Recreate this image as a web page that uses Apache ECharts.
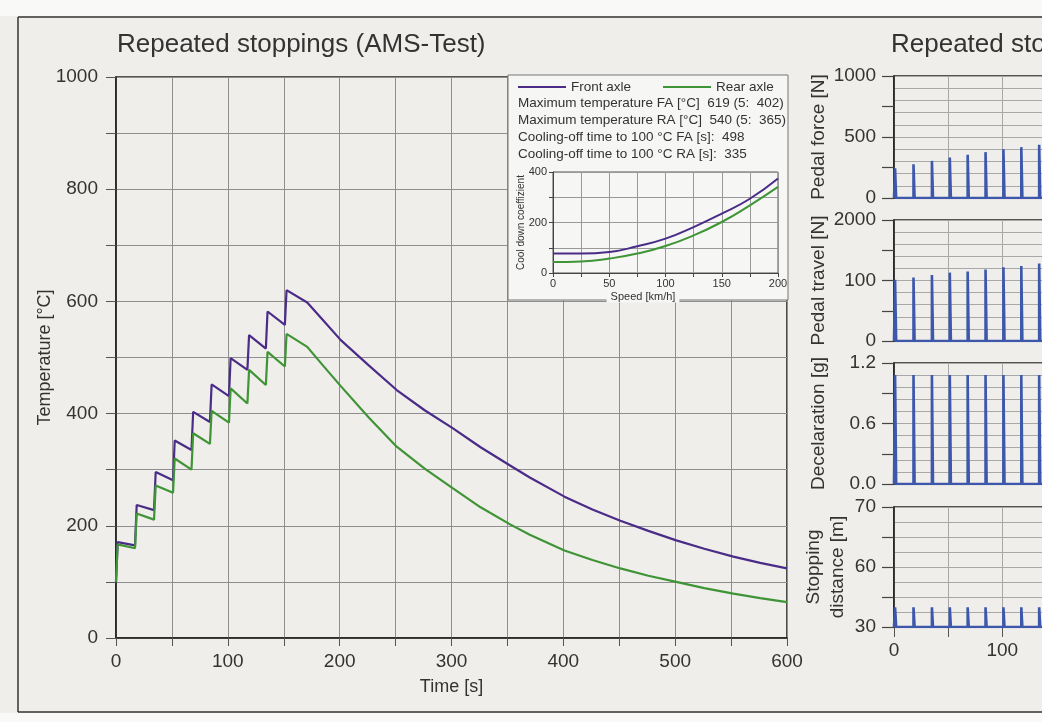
<!DOCTYPE html>
<html><head><meta charset="utf-8">
<script src="https://cdn.jsdelivr.net/npm/echarts@6/dist/echarts.min.js"></script>
<style>html,body{margin:0;padding:0;background:#f9f9f8}#c{width:1042px;height:722px}</style>
</head><body><div id="c"></div>
<script>
// ---------- data ----------
const tempTime = [0,1.5,17,18.5,34,35.5,51,52.5,67.5,69,84,85.5,101,102.5,117.5,119,134,135.5,151,152.5,171,185,201,226,251,276,301,326,352,370,401,426,451,476,501,526,552,576,600];
const tempFA   = [100,171,165,237,228,296,281,352,335,403,385,452,431,499,478,540,516,582,558,620,598,567,531,486,442,406,374,340,308,286,252,229,209,191,174,159,145,134,124];
const tempRA   = [100,167,160,222,211,272,259,320,300,365,346,405,384,445,418,478,451,510,484,542,519,486,449,393,341,302,267,233,203,184,156,139,124,111,100,89,79,71,64];

const speed  = [0,25,50,75,100,125,150,175,200];
const coolFA = [77,77,83,106,136,182,235,294,374];
const coolRA = [44,46,57,77,107,149,202,268,341];

const stopTimes        = [1,18,35,51.5,68,84.5,101,117.5,134,151];
const pedalForce       = [243,276,304,331,354,376,400,417,436,450];
const pedalTravel      = [101,105,109,113,115,118,122,124,128,131];
const deceleration     = [1.08,1.08,1.08,1.08,1.08,1.08,1.08,1.08,1.08,1.08];
const stoppingDistance = [36.6,36.6,36.6,36.6,36.6,36.6,36.6,36.6,36.6,36.6];

const forceTickLabels    = ['0','','500','','1000'];
const travelTickLabels   = ['0','','100','','2000'];
const decelTickLabels    = ['0.0','','0.6','','1.2'];
const distanceTickLabels = ['30','','60','','70'];

const titleText = 'Repeated stoppings (AMS-Test)';
const infoLines = [
  'Maximum temperature FA [°C]  619 (5:  402)',
  'Maximum temperature RA [°C]  540 (5:  365)',
  'Cooling-off time to 100 °C FA [s]:  498',
  'Cooling-off time to 100 °C RA [s]:  335'
];

// ---------- styling ----------
const FONT = '"Liberation Sans", Arial, Helvetica, sans-serif';
const TXT = '#333';
const C_FA = '#4a2c88';
const C_RA = '#3f9436';
const C_SPIKE = '#3d57aa';
const spikeWidth = 1.0;

const zip = (a, b) => a.map((v, i) => [v, b[i]]);
function spikes(times, peaks, base) {
  const d = [[0, base]];
  times.forEach((t, i) => { d.push([t, base], [t, peaks[i]], [t + spikeWidth, peaks[i]], [t + spikeWidth, base]); });
  d.push([600, base]);
  return d;
}

const panels = [
  {name:'Pedal force [N]', min:0, max:1000, grid:100, tick:250, labels:forceTickLabels, data:pedalForce, base:0, top:76, h:122, gap:63},
  {name:'Pedal travel [N]', min:0, max:200, grid:20, tick:50, labels:travelTickLabels, data:pedalTravel, base:0, top:220, h:121, gap:63},
  {name:'Decelaration [g]', min:0, max:1.2, grid:0.12, tick:0.3, labels:decelTickLabels, data:deceleration, base:0, top:363, h:121, gap:63},
  {name:'Stopping\ndistance [m]', min:30, max:70, grid:5, tick:10, labels:distanceTickLabels, data:stoppingDistance, base:30, top:507, h:120, gap:44}
];

const grids = [
  {left:116, top:77, width:671, height:561, show:true, borderColor:'#222', borderWidth:1.6, z:0, outerBoundsMode:'none'},
  {left:553, top:172, width:225, height:101, show:true, borderColor:'#555', borderWidth:1, z:3, outerBoundsMode:'none'}
];
const xAxes = [
  {gridIndex:0, type:'value', min:0, max:600, interval:50,
   axisLine:{lineStyle:{color:'#222', width:1.6}}, axisTick:{length:8, lineStyle:{color:'#555'}},
   axisLabel:{formatter:v => v % 100 === 0 ? String(v) : '', fontSize:19, color:TXT, fontFamily:FONT, margin:14},
   splitLine:{lineStyle:{color:'#8e8e8e', width:1}},
   name:'Time [s]', nameLocation:'middle', nameGap:40, nameTextStyle:{fontSize:18, color:TXT, fontFamily:FONT}},
  {gridIndex:1, type:'value', min:0, max:200, interval:25, z:3,
   axisLine:{lineStyle:{color:'#444', width:1}}, axisTick:{length:4, lineStyle:{color:'#444'}},
   axisLabel:{formatter:v => v % 50 === 0 ? String(v) : '', fontSize:11, color:TXT, fontFamily:FONT, margin:5},
   splitLine:{lineStyle:{color:'#999', width:1}}}
];
const yAxes = [
  {gridIndex:0, type:'value', min:0, max:1000, interval:100,
   axisLine:{lineStyle:{color:'#222', width:1.6}}, axisTick:{length:10, lineStyle:{color:'#555'}},
   axisLabel:{formatter:v => v % 200 === 0 ? String(v) : '', fontSize:19, color:TXT, fontFamily:FONT, margin:18},
   splitLine:{lineStyle:{color:'#8e8e8e', width:1}},
   name:'Temperature [°C]', nameLocation:'middle', nameGap:62, nameMoveOverlap:false, nameTextStyle:{fontSize:18, color:TXT, fontFamily:FONT}},
  {gridIndex:1, type:'value', min:0, max:400, interval:100, z:3,
   axisLine:{lineStyle:{color:'#444', width:1}}, axisTick:{length:4, lineStyle:{color:'#444'}},
   axisLabel:{formatter:v => v % 200 === 0 ? String(v) : '', fontSize:11, color:TXT, fontFamily:FONT, margin:6},
   splitLine:{lineStyle:{color:'#999', width:1}},
   name:'Cool down coeffizient', nameLocation:'middle', nameGap:27, nameMoveOverlap:false, nameTextStyle:{fontSize:10, color:TXT, fontFamily:FONT}}
];
const series = [
  {name:'Front axle', type:'line', xAxisIndex:0, yAxisIndex:0, data:zip(tempTime, tempFA), showSymbol:false, lineStyle:{width:2.2, color:C_FA}, itemStyle:{color:C_FA}},
  {name:'Rear axle', type:'line', xAxisIndex:0, yAxisIndex:0, data:zip(tempTime, tempRA), showSymbol:false, lineStyle:{width:2.2, color:C_RA}, itemStyle:{color:C_RA}},
  {name:'Front axle', type:'line', xAxisIndex:1, yAxisIndex:1, data:zip(speed, coolFA), smooth:true, showSymbol:false, z:5, lineStyle:{width:2, color:C_FA}, itemStyle:{color:C_FA}},
  {name:'Rear axle', type:'line', xAxisIndex:1, yAxisIndex:1, data:zip(speed, coolRA), smooth:true, showSymbol:false, z:5, lineStyle:{width:2, color:C_RA}, itemStyle:{color:C_RA}}
];

panels.forEach((p, i) => {
  const gi = grids.length;
  const last = i === panels.length - 1;
  grids.push({left:894, top:p.top, width:650, height:p.h, show:true, borderColor:'#222', borderWidth:1.6, outerBoundsMode:'none'});
  xAxes.push({gridIndex:gi, type:'value', min:0, max:600, interval:50,
    axisLine:{lineStyle:{color:'#222', width:1.6}},
    axisTick:{show:last, length:10, lineStyle:{color:'#555'}},
    axisLabel:{show:last, formatter:v => v % 100 === 0 ? String(v) : '', fontSize:19, color:TXT, fontFamily:FONT, margin:14},
    splitLine:{lineStyle:{color:'#a8a8a8', width:1}}});
  const yGridIdx = yAxes.length;
  yAxes.push({gridIndex:gi, type:'value', min:p.min, max:p.max, interval:p.grid,
    axisLine:{lineStyle:{color:'#222', width:1.6}}, axisTick:{show:false}, axisLabel:{show:false},
    splitLine:{lineStyle:{color:'#a8a8a8', width:1}}});
  yAxes.push({gridIndex:gi, type:'value', min:p.min, max:p.max, interval:p.tick, position:'left',
    axisLine:{show:false}, axisTick:{length:12, lineStyle:{color:'#444', width:1.2}},
    axisLabel:{formatter:v => p.labels[Math.round((v - p.min) / p.tick)], fontSize:19, color:TXT, fontFamily:FONT, margin:18},
    splitLine:{show:false},
    name:p.name, nameLocation:'middle', nameGap:p.gap, nameMoveOverlap:false, nameTextStyle:{fontSize:19, color:TXT, fontFamily:FONT, lineHeight:24}});
  series.push({name:p.name, type:'line', xAxisIndex:gi, yAxisIndex:yGridIdx, data:spikes(stopTimes, p.data, p.base),
    showSymbol:false, lineStyle:{width:2.6, color:C_SPIKE, join:'miter'}, itemStyle:{color:C_SPIKE}});
});

const graphic = [
  {type:'rect', shape:{x:0, y:0, width:1042, height:16}, style:{fill:'#f9f9f8'}, z:20},
  {type:'rect', shape:{x:0, y:713, width:1042, height:9}, style:{fill:'#f9f9f8'}, z:20},
  {type:'line', shape:{x1:18, y1:17, x2:1042, y2:17}, style:{stroke:'#333', lineWidth:1.5}, z:20},
  {type:'line', shape:{x1:18, y1:17, x2:18, y2:712}, style:{stroke:'#333', lineWidth:1.5}, z:20},
  {type:'line', shape:{x1:18, y1:712, x2:1042, y2:712}, style:{stroke:'#333', lineWidth:1.5}, z:20},
  {type:'text', x:117, y:45, style:{text:titleText, font:'26px ' + FONT, fill:TXT, verticalAlign:'middle'}, z:20},
  {type:'text', x:891, y:45, style:{text:titleText, font:'26px ' + FONT, fill:TXT, verticalAlign:'middle'}, z:20},
  {type:'rect', shape:{x:508, y:75, width:280, height:225}, style:{fill:'#f6f6f4', stroke:'#777', lineWidth:1}, z:1},
  {type:'text', x:643, y:297, style:{text:'Speed [km/h]', font:'11px ' + FONT, fill:TXT, align:'center', verticalAlign:'middle', backgroundColor:'#f6f6f4', padding:[0,4]}, z:20}
];
infoLines.forEach((t, i) => graphic.push({type:'text', x:518, y:103 + i * 17, style:{text:t, font:'13.5px ' + FONT, fill:TXT, verticalAlign:'middle'}, z:20}));

const chart = echarts.init(document.getElementById('c'), null, {renderer:'canvas'});
chart.setOption({
  backgroundColor:'#efeeea',
  animation:false,
  legend:{data:['Front axle','Rear axle'], left:518, top:80, icon:'rect', itemWidth:48, itemHeight:2, itemGap:32, padding:0, z:20,
    textStyle:{fontSize:13.5, color:TXT, fontFamily:FONT}},
  grid:grids, xAxis:xAxes, yAxis:yAxes, series:series, graphic:graphic
});
</script></body></html>
